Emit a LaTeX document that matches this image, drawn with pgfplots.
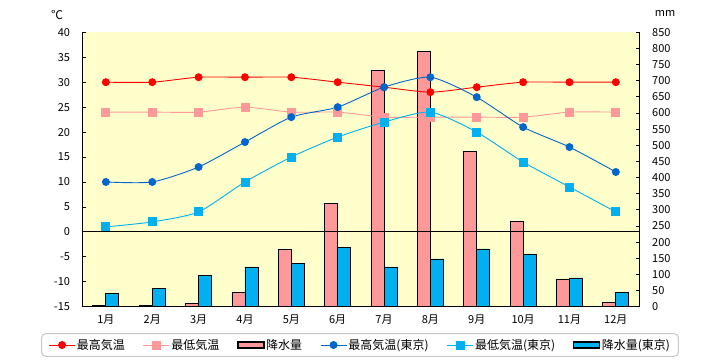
\documentclass[border=0pt]{standalone}
\usepackage{fontspec}
\setmainfont{Noto Sans CJK JP}
\usepackage{pgfplots}
\pgfplotsset{compat=1.18}
\definecolor{cRed}{HTML}{FF0000}
\definecolor{cPink}{HTML}{FF9999}
\definecolor{cBlue}{HTML}{0066CC}
\definecolor{cCyan}{HTML}{00B0F0}
\definecolor{cBg}{HTML}{FFFFCC}
\definecolor{cGray}{HTML}{C8C8C8}
\begin{document}
\begin{tikzpicture}
\useasboundingbox (0pt,0pt) rectangle (720pt,360pt);
\pgfplotsset{
  base/.style={scale only axis, width=556.3pt, height=274.4pt,
    at={(82.7pt,53.3pt)}, anchor=south west,
    xmin=0.5, xmax=12.5, clip=false,
    tick align=inside, major tick length=3pt,
    tick style={black, line width=0.8pt},
    ticklabel style={font=\fontsize{11}{12}\selectfont},
    axis line style={black, line width=0.8pt, -},
    /pgf/number format/assume math mode=true},
}
% precipitation axis (right)
\begin{axis}[base,
  axis background/.style={fill=cBg},
  ymin=0, ymax=850, ytick={0,50,...,850},
  axis y line*=right, axis x line=none,
  yticklabel style={anchor=west, inner sep=0pt, xshift=13pt},
  ]
\addplot[ybar, bar width=13pt, bar shift=-6.5pt, fill=cPink, draw=black, line width=0.8pt]
  coordinates {(1,3) (2,3) (3,10) (4,44) (5,176) (6,321) (7,732) (8,790) (9,481) (10,265) (11,85) (12,13)};
\addplot[ybar, bar width=13pt, bar shift=6.5pt, fill=cCyan, draw=black, line width=0.8pt]
  coordinates {(1,41) (2,57) (3,97) (4,123) (5,134) (6,184) (7,123) (8,148) (9,179) (10,163) (11,89) (12,44)};
\end{axis}
% temperature axis (left)
\begin{axis}[base,
  ymin=-15, ymax=40, ytick={-15,-10,...,40},
  yticklabels={-15,-10,-5,0,5,10,15,20,25,30,35,40},
  axis y line*=left, axis x line*=bottom,
  xtick={1,...,12},
  xticklabels={1月,2月,3月,4月,5月,6月,7月,8月,9月,10月,11月,12月},
  x tick style={draw=none},
  xticklabel style={anchor=center, inner sep=0pt, yshift=-13.3pt},
  yticklabel style={anchor=east, inner sep=0pt, xshift=-12.5pt},
  legend image code/.code={\draw[sharp corners, mark repeat=2,mark phase=2,#1] plot coordinates {(0pt,0pt) (13pt,0pt) (26pt,0pt)};},
  legend columns=6,
  legend style={at={(0.4985,-0.1396)}, anchor=center, draw=cGray, line width=1pt,
    rounded corners=4pt, font=\fontsize{12}{14}\selectfont,
    inner xsep=7pt, inner ysep=4pt,
    nodes={inner sep=1.5pt},
    /tikz/every even column/.append style={column sep=16.5pt}},
  ]
\addplot[black, line width=0.8pt, forget plot] coordinates {(0.5,0) (12.5,0)};
\addplot[cRed, line width=0.9pt, smooth, tension=0.4, mark=*, mark size=3.5pt, mark options={solid, fill=cRed, draw=cRed}]
  coordinates {(1,30) (2,30) (3,31) (4,31) (5,31) (6,30) (7,29) (8,28) (9,29) (10,30) (11,30) (12,30)};
\addlegendentry{最高気温}
\addplot[cPink, line width=0.9pt, smooth, tension=0.4, mark=square*, mark size=4pt, mark options={solid, fill=cPink, draw=cPink}]
  coordinates {(1,24) (2,24) (3,24) (4,25) (5,24) (6,24) (7,23) (8,23) (9,23) (10,23) (11,24) (12,24)};
\addlegendentry{最低気温}
\addlegendimage{legend image code/.code={\draw[sharp corners, fill=cPink, draw=black, line width=1.2pt] (0pt,-3pt) rectangle (26pt,3pt);}}
\addlegendentry{降水量}
\addplot[cBlue, line width=0.9pt, smooth, tension=0.4, mark=*, mark size=3.5pt, mark options={solid, fill=cBlue, draw=cBlue}]
  coordinates {(1,10) (2,10) (3,13) (4,18) (5,23) (6,25) (7,29) (8,31) (9,27) (10,21) (11,17) (12,12)};
\addlegendentry{最高気温(東京)}
\addplot[cCyan, line width=0.9pt, smooth, tension=0.4, mark=square*, mark size=4pt, mark options={solid, fill=cCyan, draw=cCyan}]
  coordinates {(1,1) (2,2) (3,4) (4,10) (5,15) (6,19) (7,22) (8,24) (9,20) (10,14) (11,9) (12,4)};
\addlegendentry{最低気温(東京)}
\addlegendimage{legend image code/.code={\draw[sharp corners, fill=cCyan, draw=black, line width=1.2pt] (0pt,-3pt) rectangle (26pt,3pt);}}
\addlegendentry{降水量(東京)}
\end{axis}
\node[font=\fontsize{12}{14}\selectfont] at (57pt,345pt) {℃};
\node[font=\fontsize{11}{12}\selectfont] at (665pt,347pt) {mm};
\end{tikzpicture}
\end{document}
